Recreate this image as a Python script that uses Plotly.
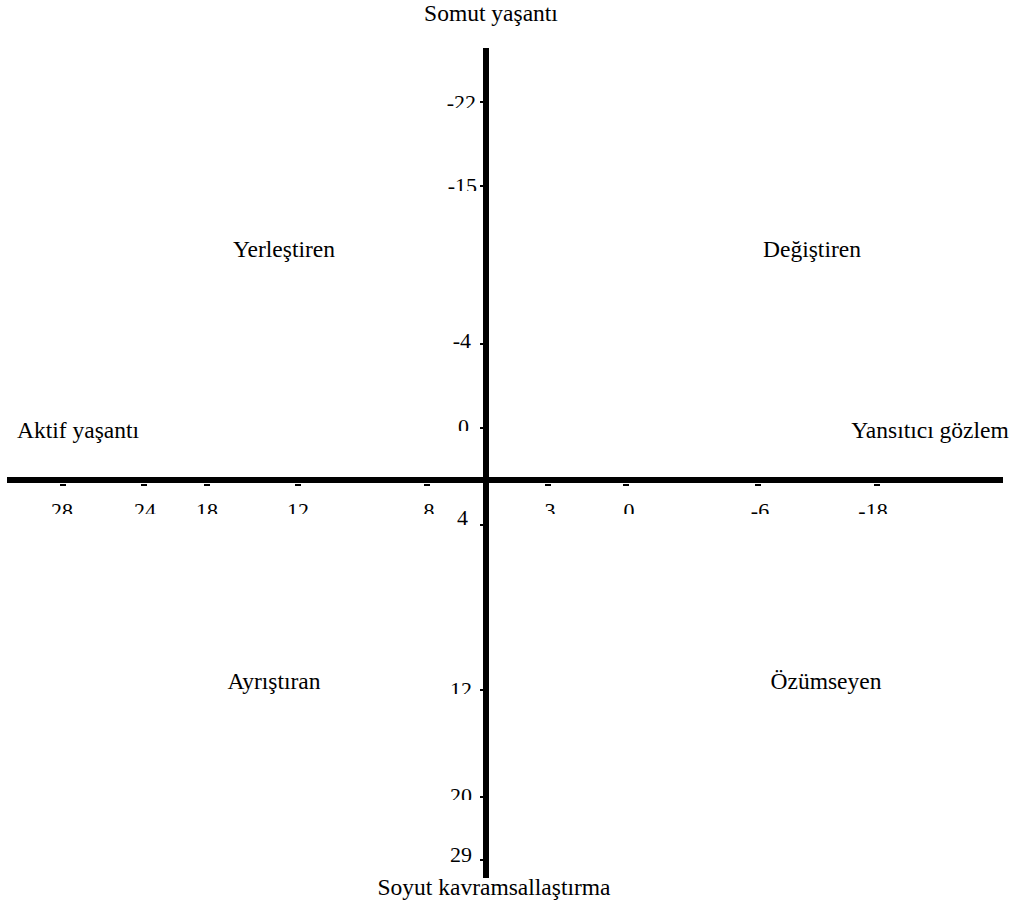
import plotly.graph_objects as go

FONT = '"Times New Roman", "Liberation Serif", "DejaVu Serif", serif'

# Axis end labels
top_label = "Somut yaşantı"
bottom_label = "Soyut kavramsallaştırma"
left_label = "Aktif yaşantı"
right_label = "Yansıtıcı gözlem"

# Quadrant names
quad_names = ["Yerleştiren", "Değiştiren", "Ayrıştıran", "Özümseyen"]
quad_x = [284, 812, 274, 826]
quad_y = [251, 251, 683, 683]

# Horizontal axis tick labels (left to right) and their positions
x_tick_labels = ["28", "24", "18", "12", "8", "3", "0", "-6", "-18"]
x_tick_pos = [62, 145, 207, 298, 429, 550, 629, 760, 873]
x_mark_pos = [63, 144, 207, 298, 427, 548, 626, 758, 877]

# Vertical axis tick labels (top to bottom) and their positions
y_tick_labels = ["-22", "-15", "-4", "0", "4", "12", "20", "29"]
y_tick_pos = [104, 187, 342, 428, 519, 691, 797, 856]
y_label_x = [476, 477, 471, 469, 468, 472, 472, 472]
y_mark_pos = [102, 186, 344, 428, 525, 690, 797, 860]
y_clip = [108, 191, None, 431, None, 694, 800, 862]

X0, Y0 = 486, 480          # axes crossing (pixel frame)
H_LINE = (7, 1003)
V_LINE = (48, 878)

W, H = 1020, 906

fig = go.Figure()

# axis lines
fig.add_trace(go.Scatter(x=[H_LINE[0], H_LINE[1]], y=[Y0, Y0], mode="lines",
                         line=dict(color="black", width=6), hoverinfo="skip",
                         cliponaxis=False))
fig.add_trace(go.Scatter(x=[X0, X0], y=[V_LINE[0], V_LINE[1]], mode="lines",
                         line=dict(color="black", width=6), hoverinfo="skip",
                         cliponaxis=False))

# tick marks on horizontal axis
for xm in x_mark_pos:
    fig.add_shape(type="line", x0=xm - 3, x1=xm + 3, y0=485, y1=485,
                  line=dict(color="black", width=2), layer="above")
# tick marks on vertical axis
for ym in y_mark_pos:
    fig.add_shape(type="line", x0=480, x1=483, y0=ym, y1=ym,
                  line=dict(color="black", width=2), layer="above")

# horizontal tick labels
fig.add_trace(go.Scatter(x=x_tick_pos, y=[512] * len(x_tick_pos), mode="text",
                         text=x_tick_labels, textposition="middle center",
                         textfont=dict(family=FONT, size=22, color="black"),
                         hoverinfo="skip", cliponaxis=False))
# clip boxes (labels are cut in the source)
for xp in x_tick_pos:
    fig.add_shape(type="rect", x0=xp - 18, x1=xp + 18, y0=514, y1=530,
                  fillcolor="white", line=dict(width=0), layer="above")

# vertical tick labels
fig.add_trace(go.Scatter(x=y_label_x, y=y_tick_pos, mode="text",
                         text=y_tick_labels, textposition="middle left",
                         textfont=dict(family=FONT, size=22, color="black"),
                         hoverinfo="skip", cliponaxis=False))
for lx, yc in zip(y_label_x, y_clip):
    if yc is None:
        continue
    fig.add_shape(type="rect", x0=lx - 40, x1=lx + 2, y0=yc, y1=yc + 12,
                  fillcolor="white", line=dict(width=0), layer="above")

# quadrant + end labels
fig.add_trace(go.Scatter(
    x=quad_x + [491, 494, 78, 930],
    y=quad_y + [15, 889, 432, 432],
    mode="text",
    text=quad_names + [top_label, bottom_label, left_label, right_label],
    textposition="middle center",
    textfont=dict(family=FONT, size=23.5, color="black"),
    hoverinfo="skip", cliponaxis=False))

fig.update_layout(
    width=W, height=H,
    margin=dict(l=0, r=0, t=0, b=0),
    paper_bgcolor="white", plot_bgcolor="white",
    showlegend=False,
    font=dict(family=FONT),
    xaxis=dict(range=[0, W], visible=False, fixedrange=True),
    yaxis=dict(range=[H, 0], visible=False, fixedrange=True),
)

fig.write_html("out.html",
               config={"displayModeBar": False, "staticPlot": True},
               post_script="document.body.style.margin='0';"
                           "document.body.style.overflow='hidden';")
